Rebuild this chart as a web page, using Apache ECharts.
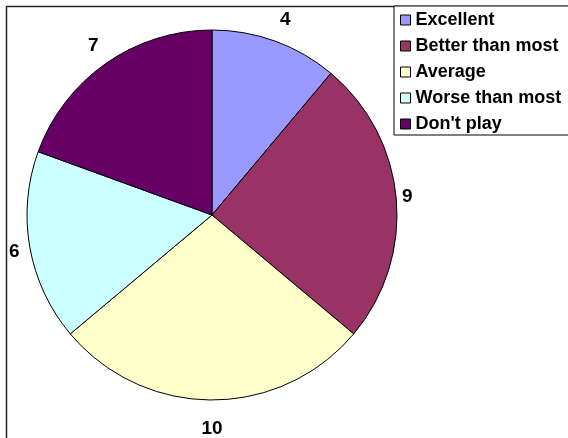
<!DOCTYPE html>
<html>
<head>
<meta charset="utf-8">
<script src="https://cdn.jsdelivr.net/npm/echarts@6/dist/echarts.min.js"></script>
<style>
  html, body { margin: 0; padding: 0; background: #fff; }
  #chart { width: 568px; height: 438px; }
</style>
</head>
<body>
<div id="chart"></div>
<script>
// Survey answers and their counts
const categories = ['Excellent', 'Better than most', 'Average', 'Worse than most', "Don't play"];
const counts = [4, 9, 10, 6, 7];
const sliceColors = ['#9999FF', '#993366', '#FFFFCC', '#CCFFFF', '#660066'];

const FONT = '"Liberation Sans", Arial, sans-serif';
const CENTER = [212, 215];
const R = 185;

// Small per-label nudges so each value sits just clear of the rim
const labelPadding = [0, [0, 36, 0, 0], 0, [0, 0, 0, 26], [0, 0, 0, 8]];
const labelDrop = [true, false, false, false, true];

const sliceData = categories.map((name, i) => ({
  name: name,
  value: counts[i],
  itemStyle: { color: sliceColors[i] }
}));

// Invisible ring just outside the pie that carries the value labels
const labelRing = categories.map((name, i) => ({
  name: name,
  value: counts[i],
  label: {
    padding: labelPadding[i],
    formatter: labelDrop[i] ? '{g| }\n{v|{c}}' : '{v|{c}}'
  }
}));

const chart = echarts.init(document.getElementById('chart'), null, { renderer: 'canvas' });
chart.setOption({
  animation: false,
  backgroundColor: '#ffffff',
  graphic: [{
    type: 'rect',
    shape: { x: 6.5, y: 6.5, width: 700, height: 600 },
    style: { fill: 'none', stroke: '#222222', lineWidth: 1.5 },
    silent: true,
    z: 0
  }],
  legend: {
    data: categories,
    orient: 'vertical',
    left: 394,
    top: 6,
    padding: [4, 30, 1, 6],
    itemGap: 6,
    itemWidth: 10,
    itemHeight: 10,
    icon: 'rect',
    itemStyle: { borderColor: '#000', borderWidth: 1 },
    borderColor: '#000',
    borderWidth: 1,
    backgroundColor: '#fff',
    selectedMode: false,
    textStyle: {
      fontFamily: FONT,
      fontSize: 18,
      fontWeight: 'bold',
      color: '#000',
      lineHeight: 20
    }
  },
  series: [
    {
      type: 'pie',
      center: CENTER,
      radius: R,
      startAngle: 90,
      clockwise: true,
      silent: true,
      itemStyle: { borderColor: '#000', borderWidth: 1 },
      label: { show: false },
      labelLine: { show: false },
      emphasis: { disabled: true },
      data: sliceData
    },
    {
      type: 'pie',
      center: CENTER,
      radius: [R, R + 52],
      startAngle: 90,
      clockwise: true,
      silent: true,
      itemStyle: { color: 'rgba(0,0,0,0)', borderWidth: 0 },
      label: {
        show: true,
        position: 'inside',
        color: '#000',
        rich: {
          v: { fontFamily: FONT, fontSize: 19, fontWeight: 'bold', color: '#000', lineHeight: 22 },
          g: { fontSize: 10, lineHeight: 12 }
        }
      },
      labelLine: { show: false },
      emphasis: { disabled: true },
      data: labelRing
    }
  ]
});
</script>
</body>
</html>
